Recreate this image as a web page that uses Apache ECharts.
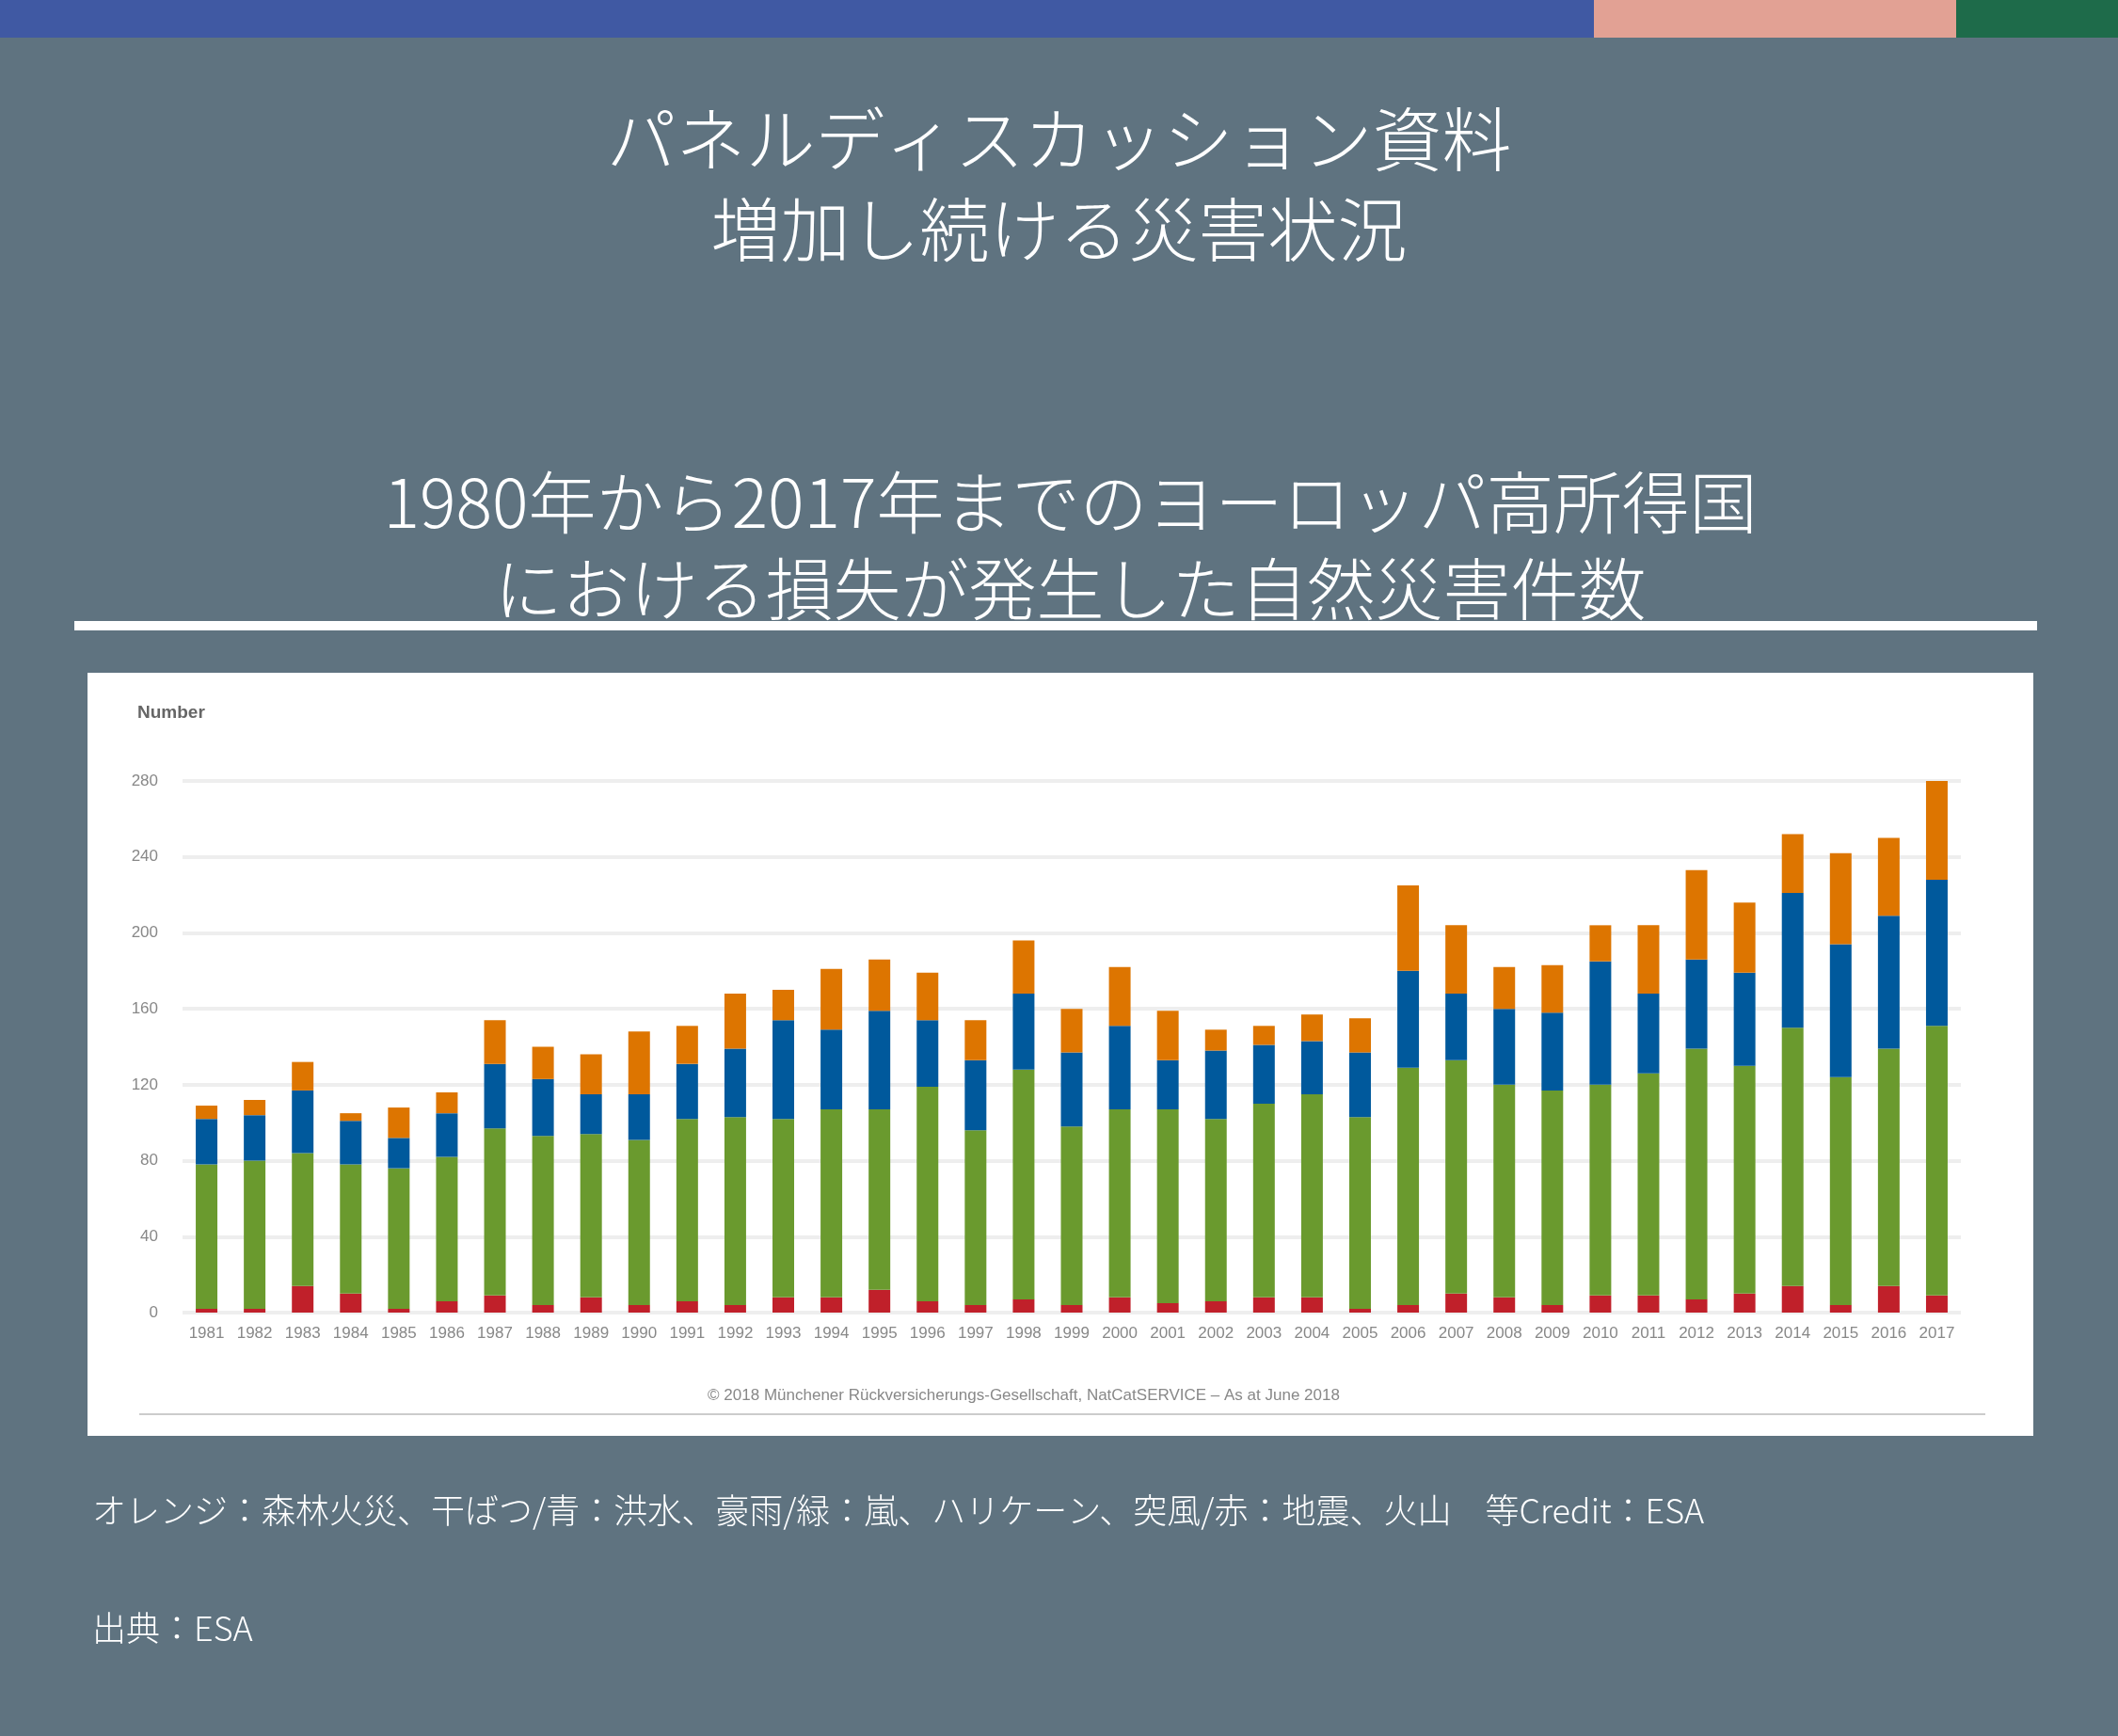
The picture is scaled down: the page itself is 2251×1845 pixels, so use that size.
<!DOCTYPE html>
<html>
<head>
<meta charset="utf-8">
<script src="https://cdn.jsdelivr.net/npm/echarts@6/dist/echarts.min.js"></script>
<style>
  html, body { margin: 0; padding: 0; background: #5f7380; }
  #main { width: 2251px; height: 1845px; }
</style>
</head>
<body>
<div id="main"></div>
<script>
// 年
var years = ['1981','1982','1983','1984','1985','1986','1987','1988','1989','1990','1991','1992','1993','1994','1995','1996','1997','1998','1999',
  '2000','2001','2002','2003','2004','2005','2006','2007','2008','2009','2010','2011','2012','2013','2014','2015','2016','2017'];
// 地震、火山
var quake = [2,2,14,10,2,6,9,4,8,4,6,4,8,8,12,6,4,7,4,8,5,6,8,8,2,4,10,8,4,9,9,7,10,14,4,14,9];
// 嵐、ハリケーン、突風
var storm = [76,78,70,68,74,76,88,89,86,87,96,99,94,99,95,113,92,121,94,99,102,96,102,107,101,125,123,112,113,111,117,132,120,136,120,125,142];
// 洪水、豪雨
var flood = [24,24,33,23,16,23,34,30,21,24,29,36,52,42,52,35,37,40,39,44,26,36,31,28,34,51,35,40,41,65,42,47,49,71,70,70,77];
// 森林火災、干ばつ
var fire = [7,8,15,4,16,11,23,17,21,33,20,29,16,32,27,25,21,28,23,31,26,11,10,14,18,45,36,22,25,19,36,47,37,31,48,41,54];
var yTicks = [0,40,80,120,160,200,240,280];

var W = 2251;
var myChart = echarts.init(document.getElementById('main'));
var jp = '"Noto Sans CJK JP", sans-serif';

function bar(name, data, color) {
  return {
    name: name,
    type: 'bar',
    stack: 'total',
    barCategoryGap: '55%',
    itemStyle: { color: color },
    data: data
  };
}

var option = {
  backgroundColor: '#5f7380',
  animation: false,
  graphic: [
    { type: 'rect', shape: { x: 0, y: 0, width: 1694, height: 40 }, style: { fill: '#4059a3' } },
    { type: 'rect', shape: { x: 1694, y: 0, width: 385, height: 40 }, style: { fill: '#e2a194' } },
    { type: 'rect', shape: { x: 2079, y: 0, width: 172, height: 40 }, style: { fill: '#1e6b4a' } },
    { type: 'text', x: W / 2, y: 148, style: { text: 'パネルディスカッション資料', fill: '#fff', font: '300 74px ' + jp, align: 'center', verticalAlign: 'middle' } },
    { type: 'text', x: W / 2, y: 244, style: { text: '増加し続ける災害状況', fill: '#fff', font: '300 74px ' + jp, align: 'center', verticalAlign: 'middle' } },
    { type: 'text', x: W / 2 + 12, y: 534, style: { text: '1980年から2017年までのヨーロッパ高所得国', fill: '#fff', font: '300 72px ' + jp, align: 'center', verticalAlign: 'middle' } },
    { type: 'text', x: W / 2 + 12, y: 626, style: { text: 'における損失が発生した自然災害件数', fill: '#fff', font: '300 72px ' + jp, align: 'center', verticalAlign: 'middle' } },
    { type: 'rect', shape: { x: 79, y: 660, width: 2086, height: 10 }, style: { fill: '#ffffff' } },
    { type: 'rect', z: -1, shape: { x: 93, y: 715, width: 2068, height: 811 }, style: { fill: '#ffffff' } },
    { type: 'text', x: 146, y: 758, style: { text: 'Number', fill: '#666', font: 'bold 19px "Liberation Sans", sans-serif', verticalAlign: 'middle' } },
    { type: 'text', x: 1088, y: 1483, style: { text: '© 2018 Münchener Rückversicherungs-Gesellschaft, NatCatSERVICE – As at June 2018', fill: '#888', font: '17px "Liberation Sans", sans-serif', align: 'center', verticalAlign: 'middle' } },
    { type: 'rect', shape: { x: 148, y: 1502, width: 1962, height: 2 }, style: { fill: '#cccccc' } },
    { type: 'text', x: 98, y: 1605, style: { text: 'オレンジ：森林火災、干ばつ/青：洪水、豪雨/緑：嵐、ハリケーン、突風/赤：地震、火山　等Credit：ESA', fill: '#fff', font: '300 36px ' + jp, verticalAlign: 'middle' } },
    { type: 'text', x: 98, y: 1730, style: { text: '出典：ESA', fill: '#fff', font: '300 36px ' + jp, verticalAlign: 'middle' } }
  ],
  grid: { left: 194, right: W - 2084, top: 830, bottom: 1845 - 1395 },
  xAxis: {
    type: 'category',
    data: years,
    axisLine: { show: false },
    axisTick: { show: false },
    axisLabel: { color: '#888', fontSize: 17, margin: 14, interval: 0, fontFamily: 'Liberation Sans' }
  },
  yAxis: {
    type: 'value',
    min: 0,
    max: 280,
    interval: 40,
    axisLine: { show: false },
    axisTick: { show: false },
    axisLabel: { color: '#888', fontSize: 17, margin: 26, fontFamily: 'Liberation Sans' },
    splitLine: { lineStyle: { color: '#eeeeee', width: 4 } }
  },
  series: [
    bar('地震、火山', quake, '#c0202a'),
    bar('嵐、ハリケーン、突風', storm, '#6a9a2e'),
    bar('洪水、豪雨', flood, '#00599c'),
    bar('森林火災、干ばつ', fire, '#dd7500')
  ]
};
myChart.setOption(option);
</script>
</body>
</html>
